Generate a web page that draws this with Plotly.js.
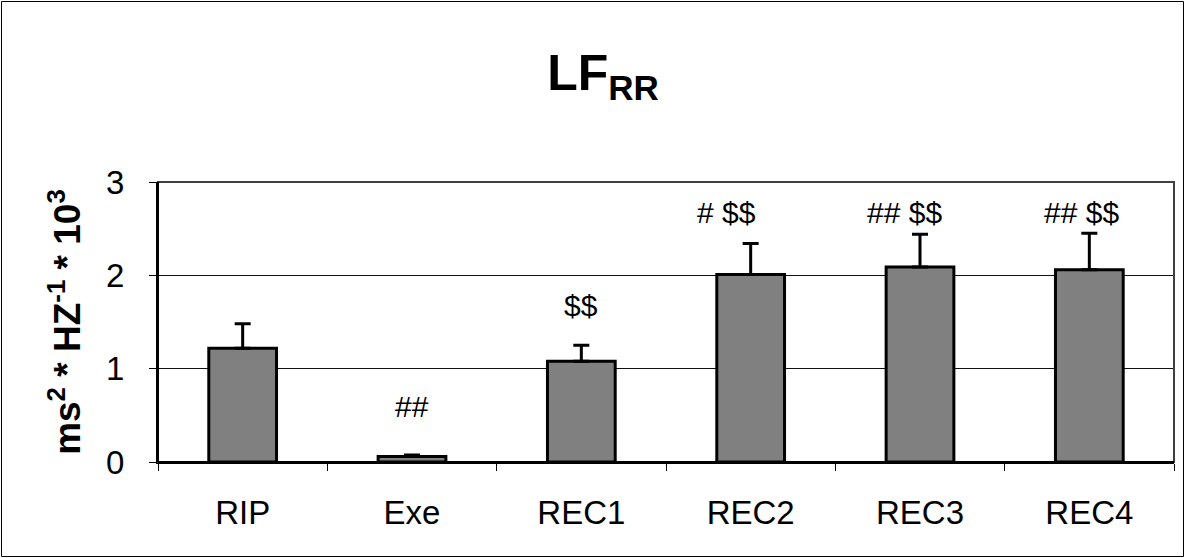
<!DOCTYPE html>
<html>
<head>
<meta charset="utf-8">
<script src="https://cdn.plot.ly/plotly-3.0.1.min.js"></script>
<style>html,body{margin:0;padding:0;background:#fff;}#chart{width:1185px;height:558px;}</style>
</head>
<body>
<div id="chart"></div>
<script>
const categories = ["RIP", "Exe", "REC1", "REC2", "REC3", "REC4"];
const means = [1.22, 0.06, 1.08, 2.01, 2.09, 2.06];
const errors = [0.26, 0.015, 0.17, 0.33, 0.35, 0.39];
const sigLabels = ["", "##", "$$", "# $$", "## $$", "## $$"];
const sigY = [0, 0.59, 1.68, 2.67, 2.67, 2.67];
const sigShift = [0, 0, 0, -24, -16, -8];
const yTicks = [0, 1, 2, 3];

const FONT = "Liberation Sans, Arial, sans-serif";
const L = 158, R = 1174, T = 182, B = 462, W = 1185, H = 558;
const pw = R - L, ph = B - T;

const trace = {
  type: "bar",
  x: categories,
  y: means,
  marker: { color: "#808080", line: { color: "#000", width: 3 } },
  error_y: {
    type: "data", symmetric: false, array: errors,
    arrayminus: errors.map(() => 0),
    color: "#000", thickness: 3, width: 8
  },
  hoverinfo: "skip"
};

const annotations = categories.map((c, i) => ({
  x: c, y: sigY[i], xref: "x", yref: "y", text: sigLabels[i],
  xshift: sigShift[i],
  showarrow: false, yanchor: "middle",
  font: { family: FONT, size: 30, color: "#000" }
})).filter(a => a.text);

const layout = {
  width: W, height: H,
  margin: { l: L, r: W - R, t: T, b: H - B, pad: 0 },
  paper_bgcolor: "#fff", plot_bgcolor: "#fff",
  showlegend: false,
  bargap: 0.6,
  title: {
    text: "<b>LF<sub>RR</sub></b>",
    font: { family: FONT, size: 50, color: "#000" },
    xref: "paper", x: (603 - L) / pw, xanchor: "center",
    yref: "container", y: 1 - 72 / H, yanchor: "middle"
  },
  xaxis: {
    type: "category",
    tickson: "boundaries", ticks: "outside", ticklen: 7, tickcolor: "#000", tickwidth: 1,
    ticklabelstandoff: 20,
    showline: true, linecolor: "#000", linewidth: 2,
    showgrid: false, zeroline: false,
    tickfont: { family: FONT, size: 33, color: "#000" },
    range: [-0.5, 5.5]
  },
  yaxis: {
    range: [0, 3], tickvals: yTicks, ticktext: yTicks.map(String),
    ticks: "outside", ticklen: 7, tickcolor: "#000", tickwidth: 1,
    ticklabelstandoff: 18,
    showline: true, linecolor: "#000", linewidth: 2,
    showgrid: true, gridcolor: "#111", gridwidth: 1, zeroline: false,
    tickfont: { family: FONT, size: 33, color: "#000" },
    title: {
      text: "<b>ms<sup>2</sup> * HZ<sup>-1</sup> * 10<sup>3</sup></b>",
      font: { family: FONT, size: 37, color: "#000" },
      standoff: 14
    }
  },
  annotations: annotations,
  shapes: [
    { type: "rect", xref: "paper", yref: "paper", x0: 0, x1: 1, y0: 0, y1: 1,
      line: { color: "#404040", width: 2 }, layer: "above" },
    { type: "line", xref: "paper", yref: "paper", x0: 0, x1: 0, y0: 0, y1: 1,
      line: { color: "#000", width: 2 }, layer: "above" },
    { type: "line", xref: "paper", yref: "paper", x0: 0, x1: 1, y0: 0, y1: 0,
      line: { color: "#000", width: 2 }, layer: "above" },
    { type: "rect", xref: "paper", yref: "paper",
      x0: (1.5 - L) / pw, x1: (1183.5 - L) / pw,
      y0: (B - 556.5) / ph, y1: (B - 1.5) / ph,
      line: { color: "#000", width: 1 }, layer: "above" }
  ]
};

Plotly.newPlot("chart", [trace], layout, { staticPlot: true, displayModeBar: false });
</script>
</body>
</html>
